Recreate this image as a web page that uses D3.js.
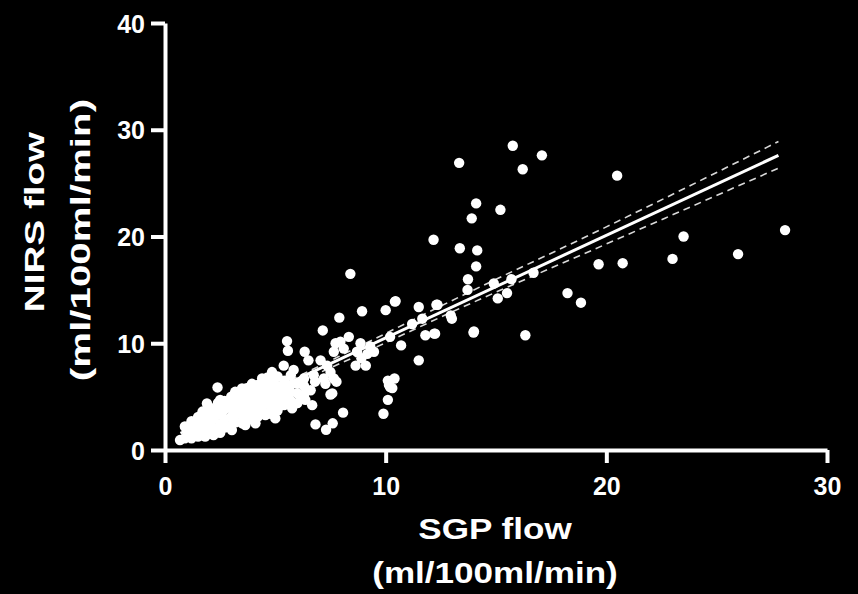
<!DOCTYPE html>
<html>
<head>
<meta charset="utf-8">
<script src="https://cdn.jsdelivr.net/npm/d3@7"></script>
<style>
  html, body { margin: 0; padding: 0; background: #000; }
  svg { display: block; }
</style>
</head>
<body>
<svg></svg>
<script>
// SGP flow (x) vs NIRS flow (y), ml/100ml/min
const sgp = [
  // dense cluster, low flows
  0.68, 0.9, 0.9, 1.0, 1.0, 1.2, 1.2, 1.2, 1.36, 1.5, 1.5, 1.5, 1.5, 1.7, 1.7, 1.7,
  1.82, 1.9, 2.0, 2.0, 2.0, 2.0, 2.2, 2.2, 2.2, 2.2, 2.38, 2.4, 2.5, 2.5, 2.5, 2.5, 2.5,
  2.7, 2.7, 2.7, 2.7, 3.0, 3.0, 3.0, 3.0, 3.0, 3.03, 3.18, 3.2, 3.2, 3.2, 3.2,
  3.49, 3.5, 3.5, 3.5, 3.5, 3.5, 3.64, 3.7, 3.7, 3.7, 3.7, 3.7, 3.94, 4.0, 4.0, 4.0, 4.0, 4.0,
  4.1, 4.2, 4.2, 4.2, 4.2, 4.2, 4.4, 4.5, 4.5, 4.5, 4.5, 4.5, 4.55, 4.8, 4.8, 4.8, 4.8, 4.8,
  4.85, 5.0, 5.1, 5.1, 5.1, 5.1, 5.1, 5.38, 5.4, 5.4, 5.4, 5.4, 5.53, 5.57, 5.7, 5.7, 5.7, 5.7,
  5.76, 5.83, 6.0, 6.0, 6.0, 6.2, 6.3, 6.3, 6.3, 6.33, 6.36, 6.5, 6.6, 6.67, 6.74, 6.8, 6.82,
  1.35, 1.85, 2.35, 2.85, 3.35, 3.85, 4.35, 4.65, 2.6, 3.1, 3.6, 4.1, 4.9, 5.25,
  // mid range
  7.05, 7.15, 7.2, 7.27, 7.3, 7.35, 7.5, 7.5, 7.58, 7.6, 7.65, 7.65, 7.73, 7.77, 7.9, 7.95,
  8.07, 8.1, 8.33, 8.4, 8.64, 8.7, 8.86, 8.9, 8.93, 9.1, 9.17, 9.3, 9.47, 9.9, 10.0, 10.1,
  10.1, 10.15, 10.2, 10.2, 10.3, 10.4, 10.42, 10.45, 10.7, 11.2, 11.5, 11.5, 11.66, 11.8,
  12.17, 12.2, 12.24, 12.3, 12.35, 12.95, 13.0,
  // high flows
  13.33, 13.36, 13.71, 13.73, 13.9, 13.98, 14.0, 14.1, 14.1, 14.15, 14.9, 15.08, 15.2, 15.5,
  15.7, 15.76, 16.21, 16.33, 16.7, 17.08, 18.24, 18.85, 19.65, 20.49, 20.74, 23.0, 23.5,
  25.97, 28.1
];
const nirs = [
  0.93, 1.1, 2.2, 1.3, 1.8, 1.1, 2.0, 2.7, 1.4, 1.5, 2.3, 3.1, 1.25, 1.9, 2.8, 3.6,
  1.25, 4.36, 1.7, 2.4, 3.2, 4.0, 2.0, 2.9, 3.7, 1.4, 5.86, 4.4, 1.6, 2.4, 3.3, 4.1, 4.7,
  2.1, 2.9, 3.8, 4.6, 2.3, 3.1, 3.9, 4.5, 5.0, 1.87, 5.45, 2.6, 3.4, 4.2, 4.9,
  5.76, 2.5, 3.2, 4.0, 4.7, 5.3, 2.34, 2.9, 3.6, 4.4, 5.1, 5.8, 6.2, 2.8, 3.5, 4.2, 4.9, 5.6,
  2.5, 3.1, 3.9, 4.7, 5.4, 6.1, 6.7, 3.5, 4.3, 5.0, 5.8, 6.4, 3.27, 3.4, 4.1, 4.8, 5.5, 6.2,
  7.3, 2.96, 3.7, 4.5, 5.3, 6.0, 6.9, 7.9, 4.2, 4.9, 5.7, 6.5, 10.2, 9.3, 4.6, 5.4, 6.1, 7.0,
  3.9, 7.5, 4.4, 5.3, 6.2, 4.8, 5.2, 6.0, 6.7, 9.2, 4.7, 8.4, 5.6, 4.2, 7.0, 6.4, 2.4,
  2.4, 3.0, 3.6, 4.2, 4.6, 5.2, 5.9, 6.8, 3.7, 4.3, 4.9, 5.5, 6.6, 4.2,
  8.4, 11.2, 6.7, 6.2, 1.9, 7.9, 7.3, 5.2, 5.3, 2.5, 6.7, 9.2, 10.0, 6.4, 12.4, 10.15,
  3.5, 9.5, 10.6, 16.5, 7.9, 9.2, 10.0, 8.6, 13.0, 7.9, 9.0, 9.7, 9.2, 3.4, 13.1, 4.7,
  6.5, 6.1, 5.9, 10.6, 5.8, 6.7, 13.9, 13.95, 9.8, 11.8, 8.4, 13.4, 12.3, 10.75,
  19.7, 10.9, 10.9, 13.6, 13.6, 12.6, 12.3,
  26.9, 18.9, 15.0, 16.0, 21.7, 11.0, 11.1, 23.1, 17.2, 18.7, 15.6, 14.2, 22.5, 14.7,
  16.0, 28.5, 26.3, 10.75, 16.6, 27.6, 14.7, 13.8, 17.4, 25.7, 17.5, 17.9, 20.0,
  18.35, 20.6
];

// regression line and its 95% band
const fitX = [0.7, 27.8];
const fitY = [1.57, 27.6];
const ciX = [0.7, 4.5, 9, 13.5, 20, 27.8];
const ciUpper = [2.0, 5.4, 9.9, 14.5, 20.9, 28.9];
const ciLower = [1.2, 4.9, 9.1, 13.4, 19.3, 26.4];

const xTicks = [0, 10, 20, 30];
const yTicks = [0, 10, 20, 30, 40];

const s = {
  width: 858,
  height: 594,
  left: 165,
  right: 827,
  top: 23,
  bottom: 450,
};

window.onload = () => {
  const svg = d3.select('svg')
      .attr('width', s.width)
      .attr('height', s.height);

  svg.append('rect')
      .attr('width', s.width)
      .attr('height', s.height)
      .attr('fill', '#000');

  const x = d3.scaleLinear().domain([0, 30]).range([s.left, s.right]);
  const y = d3.scaleLinear().domain([0, 40]).range([s.bottom, s.top]);

  // points
  svg.append('g')
    .selectAll('circle')
    .data(sgp.map((v, i) => [v, nirs[i]]))
    .join('circle')
      .attr('cx', d => x(d[0]))
      .attr('cy', d => y(d[1]))
      .attr('r', 5.2)
      .attr('fill', '#fff');

  // confidence band (dashed)
  const line = d3.line()
      .x(d => x(d[0]))
      .y(d => y(d[1]))
      .curve(d3.curveMonotoneX);

  [ciUpper, ciLower].forEach(band => {
    svg.append('path')
        .datum(ciX.map((v, i) => [v, band[i]]))
        .attr('d', line)
        .attr('fill', 'none')
        .attr('stroke', '#fff')
        .attr('stroke-opacity', 0.85)
        .attr('stroke-width', 1.6)
        .attr('stroke-dasharray', '7,5');
  });

  svg.append('path')
      .datum(fitX.map((v, i) => [v, fitY[i]]))
      .attr('d', line)
      .attr('fill', 'none')
      .attr('stroke', '#fff')
      .attr('stroke-width', 3);

  // axes
  const xAxis = svg.append('g')
      .attr('transform', `translate(0,${s.bottom})`)
      .call(d3.axisBottom(x).tickValues(xTicks).tickSize(13).tickSizeOuter(0));

  const yAxis = svg.append('g')
      .attr('transform', `translate(${s.left},0)`)
      .call(d3.axisLeft(y).tickValues(yTicks).tickSize(14).tickSizeOuter(0));

  [xAxis, yAxis].forEach(ax => {
    ax.select('.domain').attr('stroke', '#fff').attr('stroke-width', 4);
    ax.selectAll('.tick line').attr('stroke', '#fff').attr('stroke-width', 4);
    ax.selectAll('.tick text')
        .attr('fill', '#fff')
        .style('font-family', '"Liberation Sans", Arial, sans-serif')
        .style('font-weight', 'bold')
        .style('font-size', '25px');
  });
  xAxis.selectAll('.tick text').attr('y', 27).attr('dy', '0.71em');
  yAxis.selectAll('.tick text').attr('x', -20).attr('dy', '0.36em');

  // axis titles
  const title = svg.append('g')
      .attr('fill', '#fff')
      .style('font-family', '"Liberation Sans", Arial, sans-serif')
      .style('font-weight', 'bold')
      .style('font-size', '30px')
      .attr('text-anchor', 'middle');

  title.append('text')
      .attr('transform', 'translate(495,539) scale(1.17,1)')
      .text('SGP flow');
  title.append('text')
      .attr('transform', 'translate(495,583) scale(1.17,1)')
      .text('(ml/100ml/min)');

  title.append('text')
      .attr('transform', 'translate(44,222) scale(1,1.38) rotate(-90)')
      .style('font-size', '28px')
      .text('NIRS flow');
  title.append('text')
      .attr('transform', 'translate(90,240) scale(1,1.44) rotate(-90)')
      .style('font-size', '28px')
      .text('(ml/100ml/min)');
};
</script>
</body>
</html>
